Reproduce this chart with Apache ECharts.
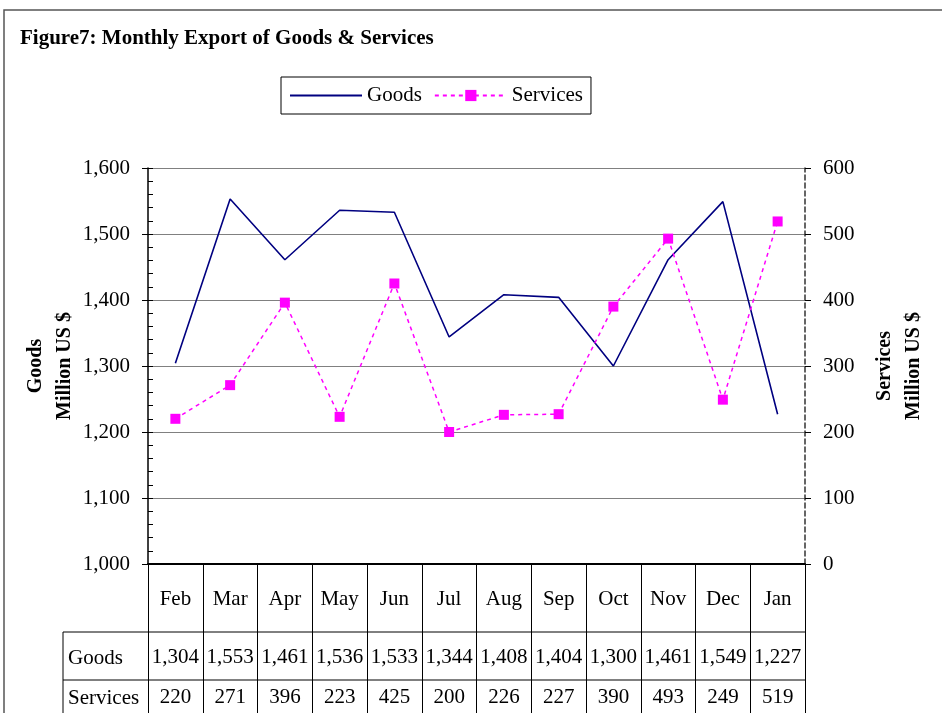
<!DOCTYPE html>
<html><head><meta charset="utf-8">
<script src="https://cdn.jsdelivr.net/npm/echarts@6/dist/echarts.min.js"></script>
<style>html,body{margin:0;padding:0;background:#fff}#c{width:942px;height:713px}</style>
</head><body><div id="c"></div>
<script>
const months = ['Feb','Mar','Apr','May','Jun','Jul','Aug','Sep','Oct','Nov','Dec','Jan'];
const goods = [1304,1553,1461,1536,1533,1344,1408,1404,1300,1461,1549,1227];
const services = [220,271,396,223,425,200,226,227,390,493,249,519];
const goodsTicks = [1000,1100,1200,1300,1400,1500,1600];
const servicesTicks = [0,100,200,300,400,500,600];

const fmt = v => v.toLocaleString('en-US');
const goodsLabels = goods.map(fmt);
const servicesLabels = services.map(fmt);

const SERIF = 'Liberation Serif';
const FS = 21;
const G = {left:148, right:137, top:168, bottom:149};
const W = 942, H = 713;
const gx1 = W - G.right;

const chart = echarts.init(document.getElementById('c'), null, {renderer:'canvas'});
const tableAxis = (data, margin) => ({
  type:'category', data, gridIndex:0, position:'bottom', boundaryGap:true,
  axisLine:{show:false}, axisTick:{show:false}, splitLine:{show:false},
  axisLabel:{interval:0, margin, color:'#000', fontFamily:SERIF, fontSize:FS}
});
chart.setOption({
  animation:false,
  backgroundColor:'#fff',
  title:{text:'Figure7: Monthly Export of Goods & Services', left:15, top:23,
    textStyle:{fontFamily:SERIF, fontWeight:'bold', fontSize:21, color:'#000'}},
  legend:{left:281, top:77, width:311, padding:[8,8,8,8], itemGap:12,
    itemWidth:72, itemHeight:14, borderColor:'#000', borderWidth:1,
    textStyle:{fontFamily:SERIF, fontSize:FS, color:'#000'},
    data:[{name:'Goods', itemStyle:{opacity:0}}, {name:'Services'}]},
  grid:G,
  xAxis:[
    {type:'category', data:months, boundaryGap:true,
     axisLine:{lineStyle:{color:'#000', width:2}},
     axisTick:{show:true, interval:0, length:G.bottom, lineStyle:{color:'#000', width:1}},
     axisLabel:{interval:0, margin:25, color:'#000', fontFamily:SERIF, fontSize:FS},
     splitLine:{show:false}},
    tableAxis(goodsLabels, 83),
    tableAxis(servicesLabels, 123)
  ],
  yAxis:[
    {type:'value', min:goodsTicks[0], max:goodsTicks[goodsTicks.length-1], interval:100, position:'left',
     name:'Goods\nMillion US $', nameLocation:'middle', nameRotate:90, nameGap:69, nameMoveOverlap:false,
     nameTextStyle:{fontFamily:SERIF, fontWeight:'bold', fontSize:20, color:'#000', lineHeight:29, align:'center'},
     axisLine:{show:true, lineStyle:{color:'#000', width:1.5}},
     axisTick:{show:true, length:6, lineStyle:{color:'#000'}},
     axisLabel:{margin:18, color:'#000', fontFamily:SERIF, fontSize:FS, formatter:v=>fmt(v)},
     splitLine:{show:true, lineStyle:{color:'#808080', width:1.2}}},
    {type:'value', min:servicesTicks[0], max:servicesTicks[servicesTicks.length-1], interval:100, position:'right',
     name:'Services\nMillion US $', nameLocation:'middle', nameRotate:90, nameGap:65, nameMoveOverlap:false,
     nameTextStyle:{fontFamily:SERIF, fontWeight:'bold', fontSize:20, color:'#000', lineHeight:29, align:'center'},
     axisLine:{show:true, lineStyle:{color:'#333', width:1.5, type:[5,3]}},
     axisTick:{show:true, length:6, lineStyle:{color:'#000'}},
     axisLabel:{margin:18, color:'#000', fontFamily:SERIF, fontSize:FS},
     splitLine:{show:false}},
    {type:'value', min:goodsTicks[0], max:goodsTicks[goodsTicks.length-1], interval:20, position:'left',
     axisLine:{show:false}, axisLabel:{show:false}, splitLine:{show:false},
     axisTick:{show:true, inside:true, length:5, lineStyle:{color:'#000'}}}
  ],
  series:[
    {name:'Goods', type:'line', data:goods, yAxisIndex:0, symbol:'none',
     lineStyle:{color:'#000080', width:1.6}, itemStyle:{color:'#000080'}},
    {name:'Services', type:'line', data:services, yAxisIndex:1, symbol:'rect', symbolSize:10,
     lineStyle:{color:'#FF00FF', width:1.5, type:[4,4]}, itemStyle:{color:'#FF00FF'}}
  ],
  graphic:[
    {type:'rect', shape:{x:4, y:10, width:W+20, height:H+20}, style:{fill:'none', stroke:'#555', lineWidth:1.5}, silent:true},
    {type:'line', shape:{x1:63, y1:632, x2:gx1, y2:632}, style:{stroke:'#000', lineWidth:1}},
    {type:'line', shape:{x1:63, y1:680, x2:gx1, y2:680}, style:{stroke:'#000', lineWidth:1}},
    {type:'line', shape:{x1:63, y1:632, x2:63, y2:H}, style:{stroke:'#000', lineWidth:1}},
    {type:'text', left:68, top:648, style:{text:'Goods', fontFamily:SERIF, fontSize:FS, fill:'#000'}},
    {type:'text', left:68, top:688, style:{text:'Services', fontFamily:SERIF, fontSize:FS, fill:'#000'}}
  ]
});
</script></body></html>
